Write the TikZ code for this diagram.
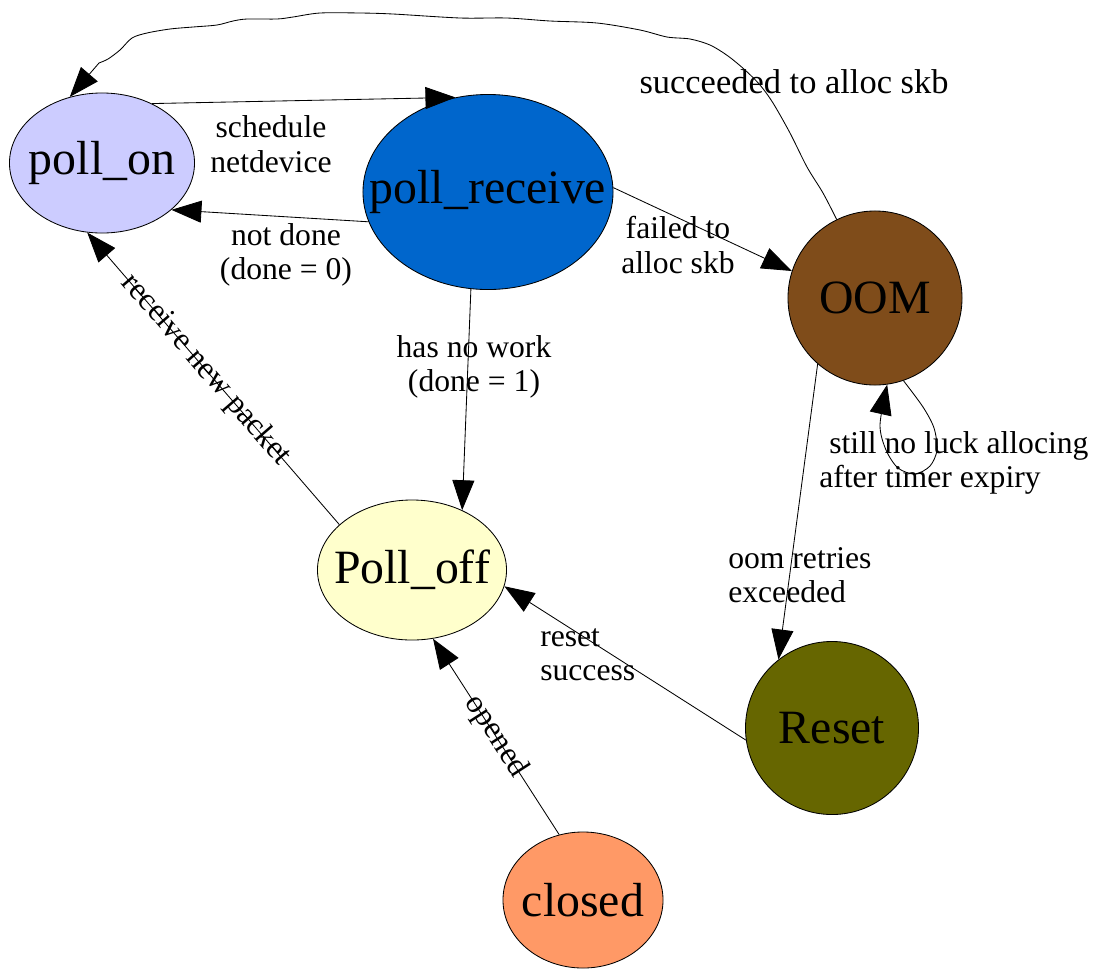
\documentclass[tikz,border=0pt]{standalone}
\usepackage{fontspec}
\setmainfont{Liberation Serif}
\usetikzlibrary{shapes.geometric,arrows.meta}
\definecolor{pollonfill}{HTML}{CCCCFF}
\definecolor{receivefill}{HTML}{0066CC}
\definecolor{oomfill}{HTML}{7F4C1A}
\definecolor{pollofffill}{HTML}{FFFFCC}
\definecolor{resetfill}{HTML}{666600}
\definecolor{closedfill}{HTML}{FF9966}
\tikzset{
  state/.style={draw, ellipse, inner sep=0pt, line width=0.6pt, font=\fontsize{34}{40}\selectfont},
  trans/.style={-{Triangle[length=0.75cm,width=0.55cm]}, line width=0.6pt},
  lbl/.style={font=\fontsize{22.5}{24.5}\selectfont, align=center, inner sep=0pt},
}

\begin{document}
\begin{tikzpicture}[x=0.025cm, y=-0.025cm]
      \useasboundingbox (0,0) rectangle (1098,969);
      % states
      \node[state, fill=pollonfill, minimum width=4.625cm, minimum height=3.5cm] (pollon) at (102,163) {\makebox[0pt]{poll\_on}};
      \node[state, fill=receivefill, minimum width=6.25cm, minimum height=4.875cm] (pollreceive) at (488,192) {\makebox[0pt]{poll\_receive}};
      \node[state, fill=oomfill, minimum width=4.35cm, minimum height=4.35cm] (oom) at (875,298) {\makebox[0pt]{OOM}};
      \node[state, fill=pollofffill, minimum width=4.725cm, minimum height=3.5cm] (polloff) at (412,570) {\makebox[0pt]{Poll\_off}};
      \node[state, fill=resetfill, minimum width=4.325cm, minimum height=4.325cm] (reset) at (832,728) {\makebox[0pt]{Reset}};
      \node[state, fill=closedfill, minimum width=4cm, minimum height=3.4cm] (closed) at (583,900) {\makebox[0pt]{closed}};
      % transitions
      \draw[trans] (pollon.50) -- (pollreceive.109);
      \draw[trans] (pollreceive.194) -- (pollon.-34);
      \draw[trans] (pollreceive.2) -- (oom.162);
      \draw[trans] (pollreceive.260) -- (polloff.50);
      \draw[trans] (oom.229) -- (reset.128);
      \draw[trans] (reset.188) -- (polloff.-10);
      \draw[trans] (closed.110) -- (polloff.-73)
        node[lbl, midway, sloped] (lblopened) {opened};
      \draw[trans] (polloff.148) -- (pollon.258)
        node[lbl, pos=0.53, sloped] (lblpacket) {receive new packet};
      \draw[trans] plot[smooth] coordinates {(oom.116) (823,193) (807,167) (790,133) (773,103)
        (760,85) (745,70) (728,56) (710,45) (690,39) (667,37) (640,30) (597,23) (550,21)
        (507,18) (460,18) (393,14) (360,13) (320,13) (293,17) (277,19) (247,19) (233,21)
        (217,25) (193,27) (170,29) (147,33) (132,38) (120,50) (108,59) (99,63)}
        -- (pollon.116);
      \draw[trans] plot[smooth] coordinates {(oom.-71) (923,407) (934,428) (937,450) (930,466)
        (915,474) (898,468) (886,450) (880,425) (oom.-82)};
      % labels
      \node[lbl] (lblschedule) at (271,144) {schedule\\netdevice};
      \node[lbl] (lblnotdone) at (286,255) {not done\\(done = 0)};
      \node[lbl] (lblfailed) at (678,245) {failed to\\alloc skb};
      \node[lbl] (lblnowork) at (474,367) {has no work\\(done = 1)};
      \node[lbl, font=\fontsize{24.5}{26}\selectfont] (lblsucceeded) at (794,82) {succeeded to alloc skb};
      \node[lbl, align=left, anchor=west] (lblluck) at (819,463) {\hspace*{0.25cm}still no luck allocing\\after timer expiry};
      \node[lbl, align=left, anchor=west] (lblretries) at (728,575) {oom retries\\exceeded};
      \node[lbl, align=left, anchor=west] (lblreset) at (540,655) {reset\\success};
\end{tikzpicture}
\end{document}
